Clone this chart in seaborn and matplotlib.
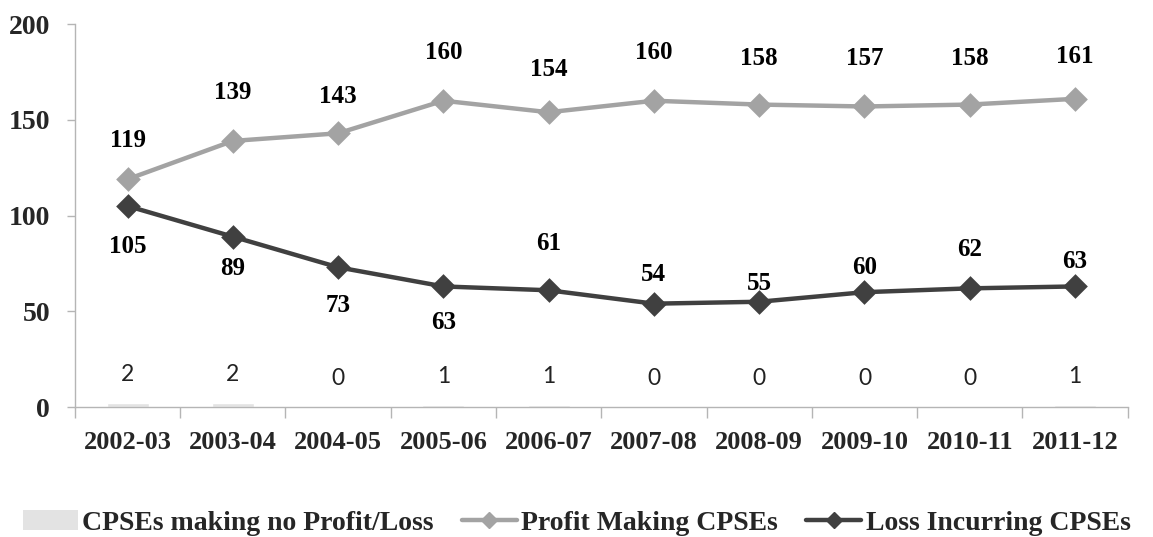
import matplotlib
matplotlib.use("Agg")
import matplotlib.pyplot as plt
import seaborn as sns
import pandas as pd
import numpy as np
from matplotlib.lines import Line2D
from matplotlib.patches import Patch
from matplotlib.ticker import FixedLocator

years = ["2002-03", "2003-04", "2004-05", "2005-06", "2006-07",
         "2007-08", "2008-09", "2009-10", "2010-11", "2011-12"]
no_profit_loss = [2, 2, 0, 1, 1, 0, 0, 0, 0, 1]
profit_making = [119, 139, 143, 160, 154, 160, 158, 157, 158, 161]
loss_incurring = [105, 89, 73, 63, 61, 54, 55, 60, 62, 63]
series_names = ["CPSEs making no Profit/Loss", "Profit Making CPSEs", "Loss Incurring CPSEs"]

# label offsets (pixels, vertical) for readability, as in the reference
profit_label_dy = [39, 48, 37, 48, 43, 48, 46, 48, 46, 42]
loss_label_dy = [-40, -32, -38, -36, 47, 29, 18, 25, 39, 25]

bar_color = "#e3e3e3"
profit_color = "#a3a3a3"
loss_color = "#404040"

sns.set_theme(style="white")
plt.rcParams["font.family"] = ["Liberation Serif", "DejaVu Serif"]

df = pd.DataFrame({"year": years, "none": no_profit_loss,
                   "profit": profit_making, "loss": loss_incurring})

fig = plt.figure(figsize=(11.53, 5.37), dpi=100)
ax = fig.add_axes([0.065, 0.242, 0.913, 0.713])

sns.barplot(data=df, x="year", y="none", color=bar_color, width=0.4,
            saturation=1, ax=ax, order=years)
sns.pointplot(data=df, x="year", y="profit", color=profit_color, markers="D",
              markersize=10, linewidth=3.2, ax=ax, order=years)
sns.pointplot(data=df, x="year", y="loss", color=loss_color, markers="D",
              markersize=10, linewidth=3.2, ax=ax, order=years)

ax.set_xlim(-0.5, len(years) - 0.5)
ax.set_ylim(0, 200)
ax.set_yticks([0, 50, 100, 150, 200])
ax.set_xlabel("")
ax.set_ylabel("")

for s in ["top", "right"]:
    ax.spines[s].set_visible(False)
for s in ["left", "bottom"]:
    ax.spines[s].set_color("#b5b5b5")
    ax.spines[s].set_linewidth(1.0)

ax.tick_params(axis="y", which="major", length=6, width=1, color="#b5b5b5",
               labelsize=20, pad=12, direction="out", left=True)
ax.tick_params(axis="x", which="major", length=0, labelsize=19, pad=17)
ax.xaxis.set_minor_locator(FixedLocator(np.arange(-0.5, len(years), 1.0)))
ax.tick_params(axis="x", which="minor", length=8, width=1, color="#b5b5b5",
               direction="out", bottom=True)
for lbl in ax.get_xticklabels() + ax.get_yticklabels():
    lbl.set_fontweight("bold")

for i, v in enumerate(no_profit_loss):
    ax.annotate(str(v), (i, v), xytext=(0, 18), textcoords="offset pixels",
                ha="center", va="bottom", fontsize=16.5, color="#222222",
                family=["Lato", "DejaVu Sans"])
for i, v in enumerate(profit_making):
    ax.annotate(str(v), (i, v), xytext=(0, profit_label_dy[i]), textcoords="offset pixels",
                ha="center", va="center", fontsize=18, fontweight="bold", color="black")
for i, v in enumerate(loss_incurring):
    ax.annotate(str(v), (i, v), xytext=(0, loss_label_dy[i]), textcoords="offset pixels",
                ha="center", va="center", fontsize=18, fontweight="bold", color="black")

handles = [
    Patch(facecolor=bar_color, edgecolor="none"),
    Line2D([], [], color=profit_color, lw=3.2, marker="D", markersize=8),
    Line2D([], [], color=loss_color, lw=3.2, marker="D", markersize=8),
]
fig.legend(handles, series_names, loc="center", bbox_to_anchor=(0.5, 0.026),
           ncol=3, frameon=False, prop={"size": 20, "weight": "bold"},
           handlelength=2.0, handletextpad=0.15, columnspacing=1.0)

fig.savefig("out.png", dpi=100)
